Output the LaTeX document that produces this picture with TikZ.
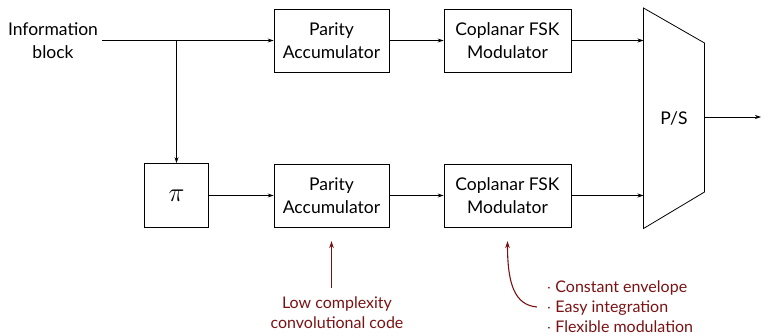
\documentclass[tikz,border=0pt]{standalone}
\usepackage{fontspec}
\setmainfont{Lato}
\usetikzlibrary{arrows.meta}
\definecolor{annot}{RGB}{122,18,20}
\begin{document}
\begin{tikzpicture}[x=1pt,y=-1pt,
  every node/.style={font=\fontsize{17.5}{23}\selectfont},
  blk/.style={draw, line width=0.8pt, minimum height=63pt, align=center, inner sep=2pt},
  conn/.style={line width=0.8pt, -{Stealth[length=6pt,width=4pt]}},
  note/.style={font=\fontsize{16}{20}\selectfont, text=annot, align=center},
  noteline/.style={draw=annot, line width=1.1pt, -{Stealth[length=7pt,width=4.5pt]}}
]
\useasboundingbox (0,0) rectangle (763,335);
\node[align=center, inner sep=4pt] (info) at (53,41) {Information\\block};
\node[blk, minimum width=115pt] (pa1) at (331.5,40.5) {Parity\\Accumulator};
\node[blk, minimum width=127pt] (cm1) at (507.5,40.5) {Coplanar FSK\\Modulator};
\node[blk, minimum width=64pt, minimum height=64pt] (pi) at (176.5,195.5) {\scalebox{1.55}{$\pi$}};
\node[blk, minimum width=115pt] (pa2) at (331.5,195.5) {Parity\\Accumulator};
\node[blk, minimum width=127pt] (cm2) at (507.5,195.5) {Coplanar FSK\\Modulator};
% P/S trapezoid
\coordinate (tl) at (643.5,8);
\coordinate (bl) at (643.5,228.5);
\coordinate (tr) at (704.5,43);
\coordinate (br) at (704.5,192);
\draw[line width=0.8pt] (tl) -- (tr) -- (br) -- (bl) -- cycle;
\node (ps) at (674,118) {P/S};
\coordinate (psin1) at (643.5,40.5);
\coordinate (psin2) at (643.5,195.5);
\coordinate (psout) at (704.5,117);
\coordinate (out) at (761,117);
\coordinate (split) at (176.5,41);
% connectors
\draw[conn] (info.east |- pa1.west) -- (pa1.west);
\draw[conn] (split) -- (pi.north);
\draw[conn] (pa1) -- (cm1);
\draw[conn] (cm1.east) -- (psin1);
\draw[conn] (pi) -- (pa2);
\draw[conn] (pa2) -- (cm2);
\draw[conn] (cm2.east) -- (psin2);
\draw[conn] (psout) -- (out);
% annotations
\node[note] (lc) at (337,313) {Low complexity\\convolutional code};
\coordinate (lctail) at (331.5,288);
\coordinate (lctip) at (331.5,241);
\draw[noteline] (lctail) -- (lctip);
\node[note, align=left, anchor=west] (feat) at (543,307) {$\cdot$ Constant envelope\\$\cdot$ Easy integration\\$\cdot$ Flexible modulation};
\coordinate (fttail) at (537,307);
\coordinate (fttip) at (507.5,241);
\draw[noteline] (fttail) .. controls (515,305) and (507.5,285) .. (fttip);
\end{tikzpicture}
\end{document}
